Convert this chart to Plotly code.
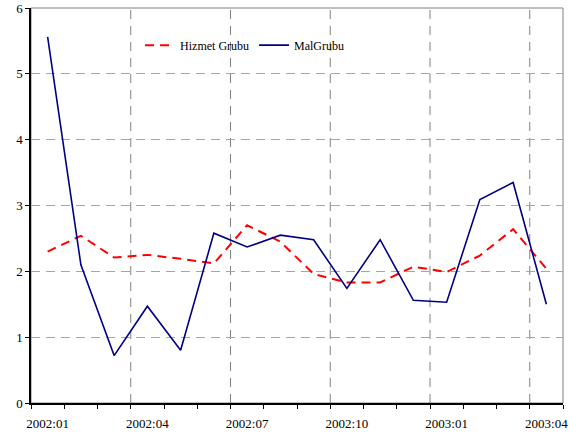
import plotly.graph_objects as go

months = ["2002:01", "2002:02", "2002:03", "2002:04", "2002:05", "2002:06",
          "2002:07", "2002:08", "2002:09", "2002:10", "2002:11", "2002:12",
          "2003:01", "2003:02", "2003:03", "2003:04"]
hizmet = [2.30, 2.54, 2.21, 2.25, 2.19, 2.12, 2.70, 2.45,
          1.96, 1.83, 1.83, 2.07, 1.99, 2.24, 2.64, 2.04]
mal = [5.56, 2.10, 0.72, 1.47, 0.80, 2.58, 2.37, 2.55,
       2.48, 1.74, 2.48, 1.56, 1.53, 3.09, 3.35, 1.50]
label_every = 3

idx = list(range(len(months)))
label_idx = idx[::label_every]
boundaries = [i - 0.5 for i in range(len(months) + 1)]
grid_bounds = [i - 0.5 for i in range(label_every, len(months), label_every)]

font_family = "Liberation Serif, Times New Roman, serif"

fig = go.Figure()
fig.add_trace(go.Scatter(x=idx, y=hizmet, mode="lines", name="Hizmet Grubu",
                         line=dict(color="#ff0000", width=2, dash="9px,6px")))
fig.add_trace(go.Scatter(x=idx, y=mal, mode="lines", name="MalGrubu",
                         line=dict(color="#000080", width=1.6)))

shapes = []
for b in grid_bounds:
    shapes.append(dict(type="line", xref="x", yref="paper", x0=b, x1=b, y0=0, y1=1,
                       line=dict(color="#808080", width=1, dash="9px,7px"), layer="below"))
shapes.append(dict(type="rect", xref="paper", yref="paper", x0=0, x1=1, y0=0, y1=1,
                   line=dict(color="#808080", width=1), layer="below"))

fig.update_layout(
    width=576, height=437, autosize=False,
    margin=dict(l=31, r=13, t=8, b=34),
    paper_bgcolor="white", plot_bgcolor="white",
    font=dict(family=font_family, size=13, color="#000000"),
    showlegend=True,
    legend=dict(orientation="h", x=0.205, y=0.906, xanchor="left", yanchor="middle",
                bgcolor="rgba(0,0,0,0)", font=dict(size=12, family=font_family)),
    shapes=shapes,
)
fig.update_xaxes(
    range=[-0.5, len(months) - 0.5], automargin=False,
    tickmode="array", tickvals=label_idx, ticktext=[months[i] for i in label_idx],
    ticks="", showgrid=False, zeroline=False,
    showline=True, linecolor="black", linewidth=1.5,
    ticklabelstandoff=8,
    minor=dict(tickmode="array", tickvals=boundaries, ticks="outside",
               ticklen=4, tickcolor="black", showgrid=False),
)
fig.update_yaxes(
    range=[0, 6], tickmode="linear", tick0=0, dtick=1, automargin=False,
    ticks="outside", ticklen=4, tickcolor="black",
    showgrid=True, gridcolor="#a6a6a6", griddash="9px,6px", gridwidth=1,
    zeroline=False, showline=True, linecolor="black", linewidth=1.5,
)

fig.write_html("out.html", config={"displayModeBar": False},
               post_script="document.body.style.margin='0';")
